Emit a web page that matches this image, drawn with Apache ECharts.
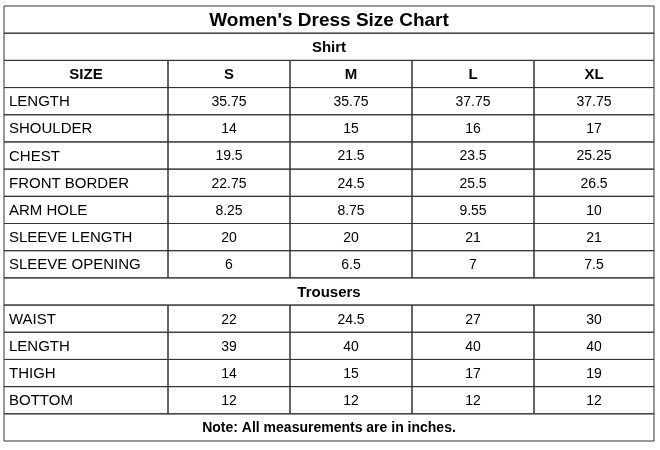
<!DOCTYPE html>
<html><head><meta charset="utf-8">
<script src="https://cdn.jsdelivr.net/npm/echarts@6/dist/echarts.min.js"></script>
<style>html,body{margin:0;padding:0;background:#fff}#c{width:660px;height:450px}</style>
</head><body><div id="c"></div>
<script>
const title = "Women's Dress Size Chart";
const sizes = ["S", "M", "L", "XL"];
const shirtLabels = ["LENGTH","SHOULDER","CHEST","FRONT BORDER","ARM HOLE","SLEEVE LENGTH","SLEEVE OPENING"];
const shirtValues = [
  ["35.75","35.75","37.75","37.75"],
  ["14","15","16","17"],
  ["19.5","21.5","23.5","25.25"],
  ["22.75","24.5","25.5","26.5"],
  ["8.25","8.75","9.55","10"],
  ["20","20","21","21"],
  ["6","6.5","7","7.5"]
];
const trouserLabels = ["WAIST","LENGTH","THIGH","BOTTOM"];
const trouserValues = [
  ["22","24.5","27","30"],
  ["39","40","40","40"],
  ["14","15","17","19"],
  ["12","12","12","12"]
];
const note = "Note: All measurements are in inches.";
const colEdges = [0, 164, 286, 408, 530, 650];

const rows = [];
rows.push({span:true, text:title, size:19});
rows.push({span:true, text:"Shirt", size:15});
rows.push({span:false, cells:["SIZE"].concat(sizes), bold:true});
shirtLabels.forEach((l,i)=>rows.push({span:false, cells:[l].concat(shirtValues[i])}));
rows.push({span:true, text:"Trousers", size:15});
trouserLabels.forEach((l,i)=>rows.push({span:false, cells:[l].concat(trouserValues[i])}));
rows.push({span:true, text:note, size:14});

const data = rows.map((r,i)=>[0,i]);
const chart = echarts.init(document.getElementById('c'));
chart.setOption({
  animation:false,
  grid:{left:4,right:6,top:6,bottom:9},
  xAxis:{type:'value',min:0,max:650,show:false},
  yAxis:{type:'category',data:rows.map((r,i)=>i),inverse:true,show:false},
  series:[{
    type:'custom',
    data:data,
    renderItem:function(params, api){
      const ri = api.value(1);
      const r = rows[ri];
      const h = api.size([0,1])[1];
      const cy = api.coord([0,ri])[1];
      const y0 = cy - h/2;
      const children = [];
      const line = {stroke:'#333', lineWidth:1, fill:'none'};
      const ff = '"Liberation Sans", Arial, sans-serif';
      if (r.span){
        const x0 = api.coord([colEdges[0],ri])[0], x1 = api.coord([colEdges[5],ri])[0];
        children.push({type:'rect',shape:{x:x0,y:y0,width:x1-x0,height:h},style:line});
        children.push({type:'text',style:{text:r.text,x:(x0+x1)/2,y:cy+1,align:'center',verticalAlign:'middle',
          font:'bold '+r.size+'px '+ff,fill:'#000'}});
      } else {
        for (let c=0;c<5;c++){
          const x0 = api.coord([colEdges[c],ri])[0], x1 = api.coord([colEdges[c+1],ri])[0];
          children.push({type:'rect',shape:{x:x0,y:y0,width:x1-x0,height:h},style:line});
          const left = (c===0 && !r.bold);
          children.push({type:'text',style:{text:r.cells[c],x:left?x0+5:(x0+x1)/2,y:cy+1,
            align:left?'left':'center',verticalAlign:'middle',
            font:(r.bold?'bold ':'')+(left?15:(r.bold?15:14))+'px '+ff,fill:'#000'}});
        }
      }
      return {type:'group',children:children};
    }
  }]
});
</script></body></html>
